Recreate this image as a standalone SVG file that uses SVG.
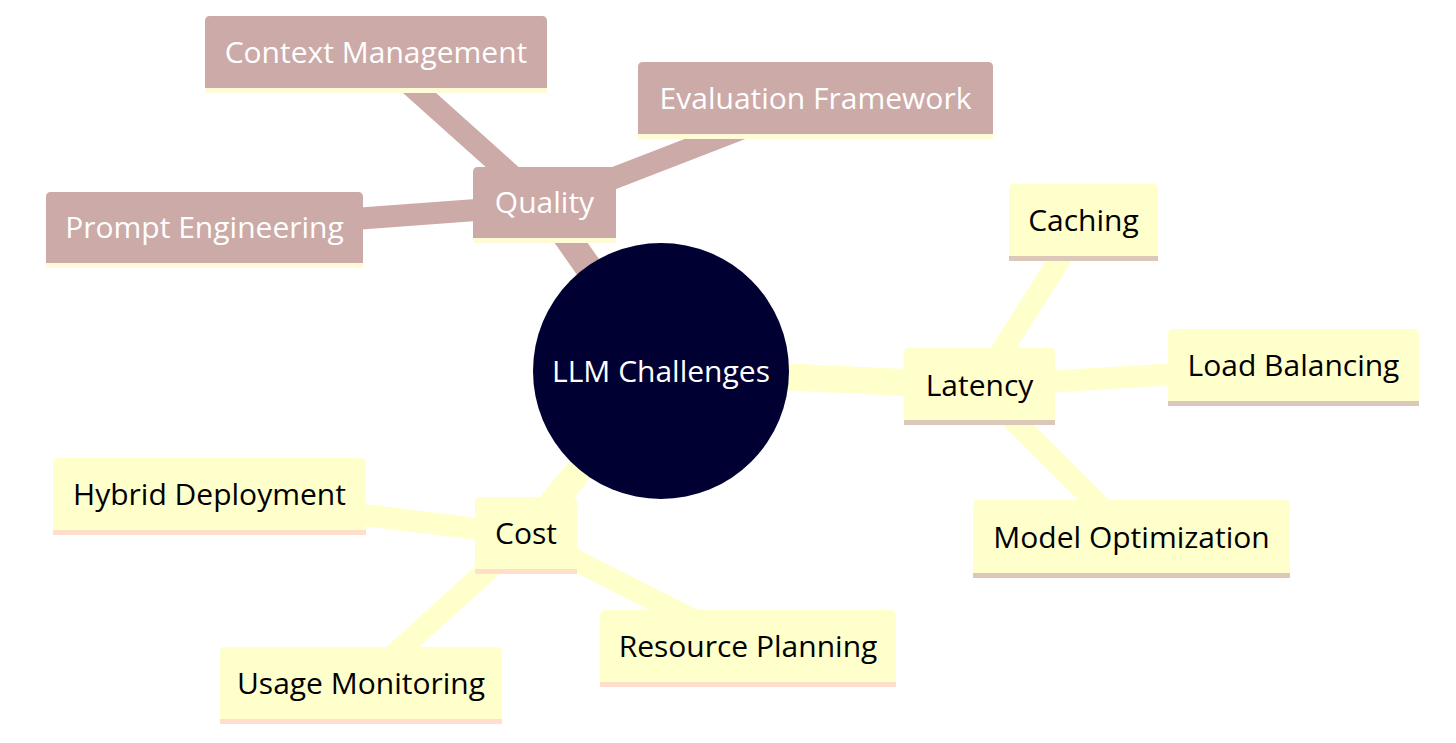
<svg xmlns="http://www.w3.org/2000/svg" width="1456" height="743" viewBox="0 0 1456 743">
<style>
.bg{fill:#ffffff}
.e-q{stroke:#ccaaa8;fill:none}
.e-y{stroke:#ffffcc;fill:none}
.d1{stroke-width:27}
.d2{stroke-width:22}
.n-q{fill:#ccaaa8}
.s-q{fill:#fffbd6}
.n-y{fill:#ffffcc}
.s-l{fill:#dcc8b8}
.s-c{fill:#ffdfcc}
.t{font-family:"Open Sans","DejaVu Sans",sans-serif;font-size:30px;text-anchor:middle}
.t-w{fill:#ffffff}
.t-b{fill:#000000}
</style>
<rect class="bg" x="0" y="0" width="1456" height="743"/>
<g id="connectors">
  <line class="e-q d1" x1="661" y1="371" x2="544.5" y2="205"/>
  <line class="e-y d1" x1="661" y1="371" x2="979.5" y2="386"/>
  <line class="e-y d1" x1="661" y1="371" x2="526" y2="535"/>
  <line class="e-q d2" x1="544.5" y1="205" x2="204.5" y2="230"/>
  <line class="e-q d2" x1="544.5" y1="205" x2="376" y2="54"/>
  <line class="e-q d2" x1="544.5" y1="205" x2="815.5" y2="100"/>
  <line class="e-y d2" x1="979.5" y1="386" x2="1083.5" y2="222"/>
  <line class="e-y d2" x1="979.5" y1="386" x2="1293.5" y2="367"/>
  <line class="e-y d2" x1="979.5" y1="386" x2="1131.5" y2="538"/>
  <line class="e-y d2" x1="526" y1="535" x2="209.5" y2="496"/>
  <line class="e-y d2" x1="526" y1="535" x2="361" y2="685"/>
  <line class="e-y d2" x1="526" y1="535" x2="748" y2="648"/>
</g>
<g id="root">
  <circle cx="661" cy="371" r="128" fill="#000033"/>
  <text class="t t-w" x="661" y="382">LLM Challenges</text>
</g>
<g id="quality">
  <path class="n-q" d="M473,238 V172 Q473,167 478,167 H611 Q616,167 616,172 V238 Z"/>
  <rect class="s-q" x="473" y="238" width="143" height="5"/>
  <text class="t t-w" x="544.5" y="213">Quality</text>
</g>
<g id="prompt-engineering">
  <path class="n-q" d="M46,263 V197 Q46,192 51,192 H358 Q363,192 363,197 V263 Z"/>
  <rect class="s-q" x="46" y="263" width="317" height="5"/>
  <text class="t t-w" x="204.5" y="238">Prompt Engineering</text>
</g>
<g id="context-management">
  <path class="n-q" d="M205,88 V21 Q205,16 210,16 H542 Q547,16 547,21 V88 Z"/>
  <rect class="s-q" x="205" y="88" width="342" height="5"/>
  <text class="t t-w" x="376" y="63">Context Management</text>
</g>
<g id="evaluation-framework">
  <path class="n-q" d="M638,134 V67 Q638,62 643,62 H988 Q993,62 993,67 V134 Z"/>
  <rect class="s-q" x="638" y="134" width="355" height="5"/>
  <text class="t t-w" x="815.5" y="109">Evaluation Framework</text>
</g>
<g id="latency">
  <path class="n-y" d="M904,420 V353 Q904,348 909,348 H1050 Q1055,348 1055,353 V420 Z"/>
  <rect class="s-l" x="904" y="420" width="151" height="5"/>
  <text class="t t-b" x="979.5" y="396">Latency</text>
</g>
<g id="caching">
  <path class="n-y" d="M1009,256 V189 Q1009,184 1014,184 H1153 Q1158,184 1158,189 V256 Z"/>
  <rect class="s-l" x="1009" y="256" width="149" height="5"/>
  <text class="t t-b" x="1083.5" y="231">Caching</text>
</g>
<g id="load-balancing">
  <path class="n-y" d="M1168,401 V334 Q1168,329 1173,329 H1414 Q1419,329 1419,334 V401 Z"/>
  <rect class="s-l" x="1168" y="401" width="251" height="5"/>
  <text class="t t-b" x="1293.5" y="376">Load Balancing</text>
</g>
<g id="model-optimization">
  <path class="n-y" d="M973,573 V505 Q973,500 978,500 H1285 Q1290,500 1290,505 V573 Z"/>
  <rect class="s-l" x="973" y="573" width="317" height="5"/>
  <text class="t t-b" x="1131.5" y="548">Model Optimization</text>
</g>
<g id="cost">
  <path class="n-y" d="M475,569 V502 Q475,497 480,497 H572 Q577,497 577,502 V569 Z"/>
  <rect class="s-c" x="475" y="569" width="102" height="5"/>
  <text class="t t-b" x="526" y="544">Cost</text>
</g>
<g id="hybrid-deployment">
  <path class="n-y" d="M53,530 V463 Q53,458 58,458 H361 Q366,458 366,463 V530 Z"/>
  <rect class="s-c" x="53" y="530" width="313" height="5"/>
  <text class="t t-b" x="209.5" y="505">Hybrid Deployment</text>
</g>
<g id="usage-monitoring">
  <path class="n-y" d="M220,719 V652 Q220,647 225,647 H497 Q502,647 502,652 V719 Z"/>
  <rect class="s-c" x="220" y="719" width="282" height="5"/>
  <text class="t t-b" x="361" y="694">Usage Monitoring</text>
</g>
<g id="resource-planning">
  <path class="n-y" d="M600,682 V615 Q600,610 605,610 H891 Q896,610 896,615 V682 Z"/>
  <rect class="s-c" x="600" y="682" width="296" height="5"/>
  <text class="t t-b" x="748" y="657">Resource Planning</text>
</g>
</svg>
